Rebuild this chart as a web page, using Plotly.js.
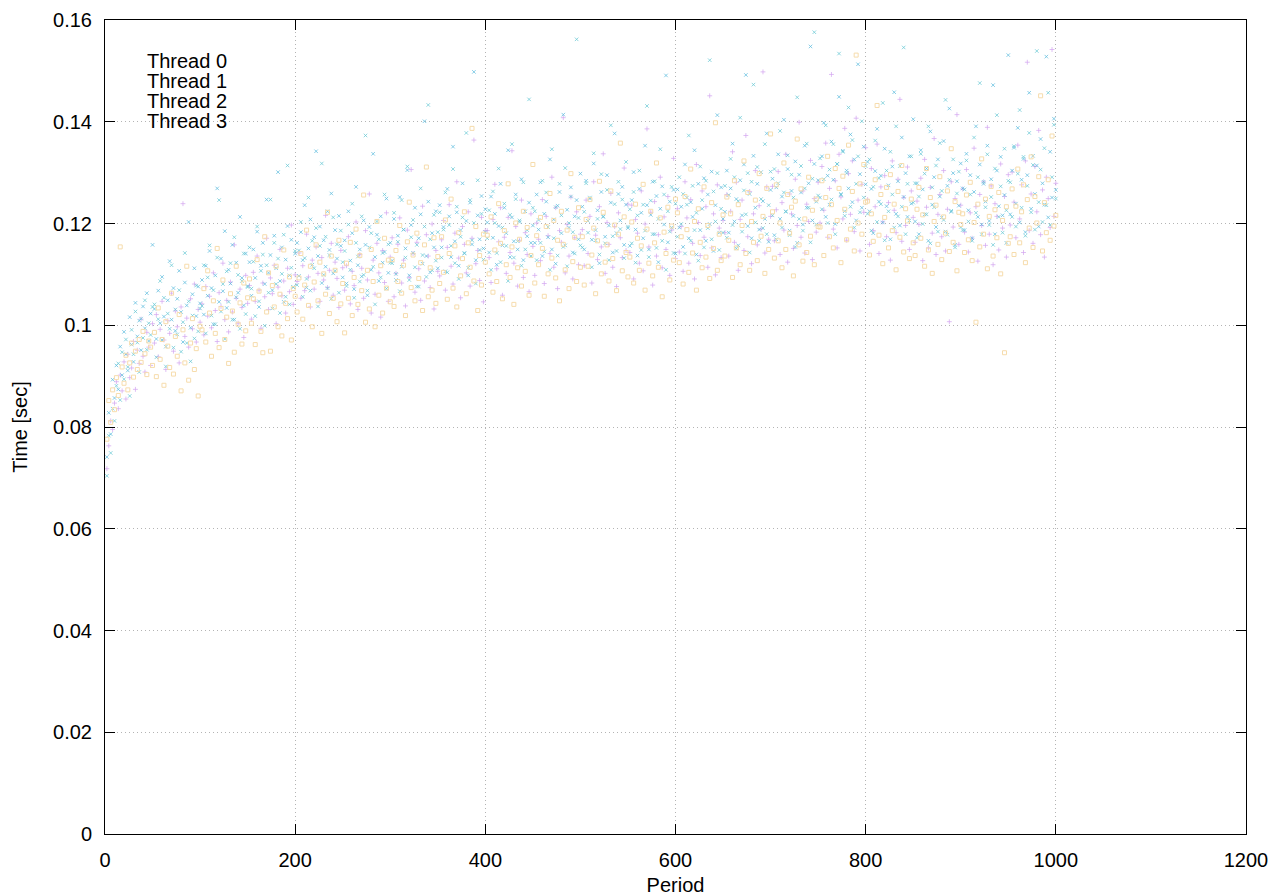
<!DOCTYPE html>
<html>
<head>
<meta charset="utf-8">
<script src="https://cdn.plot.ly/plotly-3.0.1.min.js"></script>
<style>html,body{margin:0;padding:0;background:#fff;}#chart{width:1280px;height:896px;}</style>
</head>
<body>
<div id="chart"></div>
<script>
// Series names
const threadNames = ["Thread 0", "Thread 1", "Thread 2", "Thread 3"];
// Values are read every second period (2, 4, ..., 1000)
const periodStep = 2;

const thread0 = [
.0718,.0763,.0812,.0795,.0847,.0889,.0836,.0902,.0871,.0928,.0855,.0943,.0897,.0916,.0968,.0874,.0951,.0925,.1012,.0939,.0908,.0986,.0957,.0921,.1003,
.0965,.1021,.0938,.0992,.1047,.0971,.0913,.1009,.0984,.1063,.0949,.1028,.0997,.0926,.1036,.1239,.0978,.1014,.0957,.1052,.0993,.1081,.0967,.1031,.1006,
.1042,.0981,.1076,.1018,.1057,.0995,.1103,.1029,.0968,.1064,.1037,.1122,.1011,.1049,.0987,.1085,.1026,.1158,.1053,.1004,.1071,.1035,.0976,.1098,.1043,
.1078,.1012,.1104,.1047,.1136,.1069,.0994,.1083,.1056,.1171,.1031,.1093,.1062,.1118,.1003,.1075,.1149,.1058,.1087,.1024,.1112,.1066,.1197,.1041,.1099,
.1086,.1142,.1053,.1117,.1068,.1179,.1095,.1036,.1128,.1071,.1154,.1102,.1047,.1133,.1089,.1216,.1074,.1108,.1161,.1059,.1124,.1092,.1035,.1147,.1113,
.1069,.1117,.1174,.1042,.1106,.1078,.1203,.1031,.1139,.1112,.1053,.1186,.1089,.1258,.1024,.1128,.1061,.1161,.1103,.1016,.1147,.1084,.1221,.1047,.1134,
.1172,.1056,.1102,.1159,.1211,.1083,.1128,.1038,.1187,.1094,.1306,.1141,.1065,.1163,.1111,.1049,.1234,.1087,.1178,.1136,.1074,.1199,.1032,.1147,.1106,
.1097,.1168,.1206,.1069,.1153,.1237,.1116,.1081,.1181,.1282,.1132,.1054,.1194,.1159,.1103,.1223,.1077,.1171,.1364,.1121,.1147,.1088,.1212,.1046,.1186,
.1186,.1133,.1084,.1208,.1277,.1111,.1164,.1231,.1059,.1173,.1102,.1212,.1143,.1343,.1122,.1194,.1077,.1167,.1246,.1094,.1182,.1139,.1066,.1219,.1155,
.1098,.1201,.1169,.1127,.1247,.1082,.1214,.1176,.1141,.1291,.1114,.1231,.1072,.1186,.1163,.1408,.1103,.1198,.1136,.1252,.1091,.1172,.1223,.1119,.1179,
.1188,.1117,.1246,.1141,.1214,.1083,.1282,.1177,.1129,.1233,.1154,.1337,.1102,.1202,.1159,.1259,.1114,.1194,.1076,.1221,.1172,.1133,.1309,.1147,.1238,
.1143,.1236,.1091,.1208,.1181,.1122,.1264,.1107,.1199,.1386,.1154,.1222,.1079,.1243,.1136,.1178,.1291,.1113,.1213,.1149,.1253,.1098,.1187,.1328,.1131,
.1229,.1144,.1194,.1106,.1282,.1211,.1122,.1247,.1161,.1091,.1316,.1202,.1137,.1264,.1173,.1233,.1114,.1451,.1152,.1219,.1099,.1276,.1191,.1133,.1206,
.1182,.1257,.1136,.1224,.1341,.1163,.1281,.1108,.1208,.1246,.1147,.1373,.1174,.1263,.1121,.1219,.1304,.1158,.1235,.1189,.1498,.1142,.1272,.1169,.1214,
.1273,.1166,.1227,.1302,.1139,.1241,.1187,.1336,.1124,.1258,.1219,.1151,.1287,.1196,.1399,.1173,.1264,.1142,.1238,.1204,.1324,.1129,.1249,.1183,.1281,
.1201,.1312,.1226,.1358,.1173,.1269,.1493,.1189,.1284,.1152,.1336,.1252,.1209,.1387,.1167,.1298,.1218,.1323,.1184,.1407,.1246,.1146,.1277,.1222,.1349,
.1247,.1159,.1308,.1186,.1233,.1356,.1141,.1272,.1203,.1294,.1174,.1241,.1128,.1323,.1226,.1182,.1287,.1444,.1165,.1251,.1196,.1311,.1149,.1264,.1212,
.1163,.1244,.1198,.1289,.1127,.1326,.1232,.1152,.1271,.1181,.1367,.1139,.1218,.1257,.1174,.1304,.1146,.1228,.1007,.1282,.1193,.1249,.1414,.1159,.1236,
.1268,.1183,.1306,.1144,.1221,.1171,.1348,.1233,.1126,.1257,.1196,.1282,.1157,.1389,.1179,.1274,.1119,.1239,.1214,.1148,.1317,.1191,.1253,.1134,.1296,
.1197,.1301,.1242,.1172,.1354,.1209,.1276,.1143,.1323,.1517,.1186,.1258,.1161,.1312,.1223,.1383,.1178,.1266,.1134,.1291,.1249,.1192,.1542,.1214,.1279
];

const thread1 = [
.0741,.0828,.0786,.0893,.0857,.0921,.0874,.0958,.0902,.0987,.0943,.0911,.1016,.0962,.0928,.1044,.0978,.1009,.0951,.1037,.0994,.1063,.0969,.1023,.1158,
.1032,.0973,.1068,.1004,.1095,.1017,.0958,.1049,.1126,.1011,.1073,.0989,.1052,.1107,.1026,.0967,.1084,.1039,.1203,.0995,.1061,.1112,.1018,.1076,.1043,
.1089,.1021,.1117,.1058,.1146,.1073,.1002,.1098,.1269,.1046,.1131,.1067,.1185,.1034,.1109,.1082,.1158,.1011,.1123,.1064,.1213,.1093,.1039,.1141,.1077,
.1124,.1058,.1149,.1093,.1184,.1036,.1117,.1162,.1081,.1247,.1103,.1138,.1069,.1176,.1112,.1301,.1087,.1153,.1046,.1129,.1195,.1098,.1168,.1075,.1141,
.1162,.1097,.1183,.1128,.1236,.1074,.1151,.1208,.1119,.1173,.1342,.1136,.1194,.1083,.1167,.1115,.1224,.1148,.1259,.1102,.1187,.1131,.1215,.1156,.1094,
.1167,.1082,.1224,.1127,.1181,.1071,.1272,.1118,.1149,.1096,.1206,.1158,.1059,.1193,.1109,.1337,.1134,.1178,.1087,.1214,.1123,.1144,.1249,.1103,.1162,
.1127,.1209,.1089,.1176,.1252,.1115,.1188,.1151,.1305,.1098,.1197,.1142,.1231,.1076,.1171,.1218,.1121,.1401,.1136,.1243,.1104,.1181,.1153,.1224,.1112,
.1236,.1153,.1193,.1106,.1268,.1214,.1134,.1351,.1165,.1222,.1117,.1187,.1279,.1142,.1205,.1098,.1241,.1159,.1498,.1128,.1216,.1169,.1254,.1151,.1228,
.1202,.1143,.1253,.1172,.1219,.1119,.1195,.1278,.1157,.1231,.1181,.1344,.1134,.1212,.1165,.1257,.1149,.1203,.1287,.1128,.1224,.1175,.1241,.1162,.1196,
.1162,.1257,.1188,.1281,.1136,.1219,.1243,.1173,.1326,.1149,.1208,.1121,.1235,.1262,.1181,.1414,.1157,.1227,.1192,.1271,.1143,.1214,.1246,.1169,.1298,
.1233,.1149,.1284,.1205,.1249,.1168,.1318,.1187,.1226,.1122,.1262,.1213,.1174,.1295,.1196,.1241,.1143,.1377,.1181,.1258,.1206,.1272,.1158,.1237,.1191,
.1156,.1246,.1301,.1188,.1137,.1268,.1221,.1171,.1353,.1236,.1149,.1217,.1282,.1179,.1254,.1124,.1229,.1273,.1198,.1491,.1163,.1243,.1192,.1266,.1141,
.1267,.1192,.1233,.1154,.1316,.1251,.1171,.1242,.1213,.1344,.1139,.1278,.1187,.1229,.1289,.1166,.1257,.1199,.1302,.1146,.1236,.1413,.1182,.1271,.1209,
.1223,.1304,.1182,.1269,.1357,.1204,.1248,.1157,.1285,.1216,.1316,.1492,.1195,.1258,.1171,.1333,.1231,.1278,.1188,.1301,.1244,.1209,.1377,.1164,.1266,
.1288,.1177,.1271,.1336,.1209,.1253,.1404,.1224,.1307,.1186,.1264,.1215,.1322,.1162,.1296,.1261,.1198,.1353,.1231,.1279,.1548,.1206,.1317,.1243,.1285,
.1251,.1332,.1398,.1213,.1294,.1237,.1361,.1286,.1199,.1317,.1449,.1258,.1343,.1224,.1304,.1269,.1375,.1242,.1326,.1206,.1513,.1297,.1231,.1351,.1277,
.1321,.1224,.1268,.1181,.1303,.1386,.1243,.1294,.1202,.1347,.1234,.1275,.1169,.1312,.1458,.1219,.1283,.1196,.1369,.1252,.1299,.1213,.1332,.1239,.1405,
.1204,.1279,.1179,.1344,.1267,.1218,.1308,.1166,.1381,.1237,.1291,.1193,.1326,.1253,.1212,.1362,.1184,.1274,.1426,.1223,.1299,.1158,.1283,.1235,.1318,
.1269,.1187,.1337,.1226,.1295,.1171,.1262,.1391,.1213,.1316,.1198,.1278,.1243,.1353,.1205,.1287,.1472,.1179,.1304,.1234,.1331,.1216,.1256,.1162,.1531,
.1218,.1304,.1349,.1239,.1388,.1202,.1286,.1327,.1183,.1295,.1457,.1229,.1333,.1258,.1314,.1194,.1366,.1279,.1237,.1528,.1212,.1341,.1251,.1406,.1266
];

const thread2 = [
.0704,.0783,.0749,.0836,.0812,.0881,.0925,.0853,.0947,.0894,.0972,.0918,.0861,.0991,.0943,.1027,.0966,.0908,.1013,.0975,.1049,.0952,.1004,.0981,.1036,
.1041,.0937,.1012,.1087,.0971,.1054,.0919,.1023,.0993,.1118,.0956,.1031,.0982,.1069,.0948,.1006,.1142,.0965,.1047,.0929,.1019,.0974,.1078,.0988,.1033,
.1038,.1118,.0984,.1094,.1157,.1019,.1069,.1002,.1133,.1246,.1027,.1081,.0973,.1106,.1046,.1122,.1011,.1173,.1055,.1099,.0993,.1087,.1141,.1022,.1075,
.1153,.1072,.1125,.1018,.1194,.1047,.1107,.1139,.0999,.1118,.1064,.1247,.1033,.1162,.1081,.1131,.1024,.1101,.1178,.1056,.1314,.1041,.1113,.1075,.1146,
.1079,.1147,.1203,.1056,.1132,.1091,.1251,.1068,.1166,.1112,.1191,.1037,.1156,.1318,.1099,.1174,.1073,.1138,.1052,.1212,.1107,.1159,.1064,.1186,.1124,
.1146,.1077,.1198,.1109,.1239,.1054,.1162,.1135,.1086,.1214,.1099,.1373,.1068,.1153,.1181,.1115,.1041,.1204,.1169,.1094,.1142,.1257,.1072,.1159,.1123,
.1122,.1221,.1101,.1164,.1067,.1246,.1188,.1133,.1312,.1089,.1173,.1207,.1114,.1158,.1076,.1269,.1138,.1194,.1095,.1433,.1169,.1108,.1217,.1127,.1183,
.1222,.1133,.1188,.1261,.1104,.1197,.1156,.1307,.1122,.1233,.1091,.1174,.1212,.1141,.1378,.1113,.1246,.1167,.1201,.1082,.1285,.1148,.1219,.1129,.1183,
.1171,.1226,.1109,.1263,.1201,.1142,.1308,.1124,.1192,.1239,.1156,.1087,.1217,.1356,.1133,.1248,.1165,.1206,.1117,.1281,.1149,.1187,.1444,.1136,.1231,
.1224,.1128,.1207,.1162,.1284,.1145,.1261,.1193,.1109,.1346,.1171,.1232,.1137,.1278,.1216,.1154,.1309,.1116,.1201,.1253,.1183,.1141,.1562,.1211,.1157,
.1153,.1223,.1279,.1182,.1251,.1114,.1338,.1167,.1209,.1139,.1297,.1214,.1161,.1266,.1128,.1393,.1175,.1238,.1146,.1282,.1189,.1247,.1132,.1321,.1194,
.1228,.1161,.1262,.1123,.1216,.1304,.1148,.1237,.1186,.1431,.1134,.1245,.1179,.1283,.1152,.1209,.1346,.1166,.1257,.1109,.1224,.1184,.1272,.1142,.1239,
.1174,.1291,.1199,.1258,.1141,.1237,.1373,.1166,.1274,.1187,.1221,.1127,.1312,.1246,.1153,.1284,.1191,.1521,.1169,.1263,.1204,.1299,.1148,.1229,.1182,
.1274,.1172,.1256,.1327,.1197,.1291,.1151,.1244,.1408,.1184,.1265,.1218,.1299,.1143,.1282,.1473,.1202,.1311,.1166,.1248,.1191,.1356,.1179,.1236,.1302,
.1216,.1307,.1169,.1279,.1382,.1192,.1261,.1223,.1334,.1177,.1296,.1251,.1154,.1448,.1209,.1313,.1186,.1269,.1357,.1231,.1163,.1288,.1576,.1198,.1255,
.1328,.1228,.1287,.1393,.1201,.1306,.1247,.1356,.1179,.1317,.1534,.1256,.1341,.1215,.1299,.1428,.1233,.1364,.1192,.1278,.1332,.1222,.1401,.1251,.1313,
.1219,.1326,.1186,.1272,.1363,.1203,.1289,.1238,.1437,.1167,.1304,.1224,.1341,.1257,.1192,.1391,.1214,.1313,.1233,.1546,.1179,.1278,.1206,.1332,.1241,
.1279,.1172,.1253,.1337,.1199,.1298,.1218,.1391,.1161,.1271,.1232,.1314,.1184,.1358,.1264,.1207,.1443,.1178,.1286,.1225,.1326,.1153,.1259,.1302,.1193,
.1187,.1267,.1324,.1204,.1257,.1166,.1369,.1221,.1291,.1476,.1179,.1282,.1232,.1336,.1197,.1252,.1158,.1308,.1413,.1213,.1273,.1182,.1347,.1226,.1284,
.1281,.1213,.1352,.1194,.1298,.1423,.1231,.1331,.1176,.1274,.1378,.1222,.1315,.1188,.1539,.1242,.1306,.1203,.1348,.1236,.1457,.1197,.1291,.1394,.1249
];

const thread3 = [
.0776,.0852,.0809,.0873,.0834,.0897,.0862,.1154,.0918,.0886,.0941,.0873,.0926,.0965,.0898,.0949,.0913,.0972,.0927,.0988,.0944,.0903,.0969,.0957,.0921,
.0986,.0899,.1034,.0933,.0972,.0882,.1007,.0959,.0917,.1063,.0904,.0978,.0939,.1021,.0871,.0991,.0926,.1116,.0892,.0965,.1013,.0913,.0954,.0861,.0998,
.0991,.1072,.0967,.1107,.1024,.0939,.1048,.0984,.1151,.0956,.1033,.1089,.0972,.1016,.0925,.1062,.1028,.0947,.1116,.1002,.1044,.0963,.1083,.0989,.1054,
.1091,.1004,.1052,.0962,.1129,.1067,.0988,.0946,.1174,.1026,.1103,.0949,.1078,.1036,.1116,.0997,.1061,.0979,.1148,.1043,.1013,.1095,.0971,.1072,.1057,
.1026,.1093,.1141,.1012,.1079,.1187,.1039,.1116,.0997,.1085,.1158,.1048,.1124,.0984,.1101,.1061,.1222,.1023,.1136,.1053,.1108,.1007,.1167,.1042,.1082,
.0985,.1122,.1053,.1163,.1019,.1094,.1189,.1041,.1137,.1068,.1256,.1006,.1108,.1032,.1149,.1086,.0997,.1204,.1059,.1117,.1024,.1171,.1073,.1128,.1046,
.1129,.1037,.1147,.1086,.1196,.1063,.1118,.1019,.1164,.1242,.1074,.1138,.1048,.1181,.1092,.1123,.1029,.1158,.1311,.1056,.1113,.1069,.1172,.1043,.1135,
.1082,.1174,.1104,.1207,.1051,.1141,.1248,.1073,.1156,.1036,.1182,.1097,.1131,.1223,.1062,.1162,.1114,.1387,.1087,.1194,.1029,.1137,.1079,.1179,.1124,
.1177,.1101,.1213,.1065,.1148,.1086,.1239,.1161,.1052,.1186,.1119,.1278,.1094,.1154,.1041,.1201,.1113,.1169,.1077,.1224,.1106,.1192,.1059,.1137,.1316,
.1083,.1176,.1119,.1212,.1151,.1057,.1194,.1101,.1259,.1132,.1206,.1093,.1167,.1048,.1224,.1159,.1109,.1187,.1072,.1298,.1125,.1173,.1086,.1231,.1114,
.1174,.1079,.1208,.1116,.1247,.1138,.1191,.1062,.1166,.1283,.1101,.1222,.1124,.1158,.1087,.1264,.1131,.1197,.1068,.1179,.1358,.1107,.1213,.1143,.1095,
.1134,.1203,.1083,.1238,.1171,.1108,.1156,.1277,.1069,.1189,.1122,.1224,.1097,.1162,.1319,.1114,.1211,.1056,.1183,.1141,.1232,.1089,.1195,.1128,.1248,
.1221,.1123,.1174,.1081,.1253,.1188,.1104,.1307,.1142,.1204,.1069,.1229,.1163,.1113,.1272,.1134,.1196,.1092,.1241,.1151,.1398,.1108,.1179,.1127,.1217,
.1136,.1252,.1167,.1219,.1094,.1284,.1152,.1237,.1119,.1196,.1323,.1141,.1261,.1108,.1204,.1163,.1246,.1127,.1298,.1175,.1214,.1102,.1269,.1149,.1376,
.1223,.1132,.1276,.1166,.1201,.1113,.1319,.1149,.1257,.1181,.1232,.1097,.1244,.1366,.1158,.1268,.1126,.1209,.1143,.1291,.1175,.1226,.1119,.1248,.1194,
.1193,.1284,.1137,.1251,.1332,.1174,.1237,.1152,.1308,.1206,.1269,.1123,.1293,.1228,.1168,.1354,.1189,.1263,.1146,.1531,.1201,.1278,.1179,.1316,.1242,
.1244,.1138,.1219,.1165,.1286,.1432,.1177,.1257,.1121,.1212,.1271,.1152,.1296,.1186,.1238,.1109,.1263,.1173,.1314,.1144,.1229,.1205,.1131,.1248,.1162,
.1137,.1228,.1271,.1171,.1217,.1116,.1308,.1148,.1251,.1102,.1204,.1236,.1159,.1292,.1129,.1213,.1181,.1264,.1145,.1347,.1163,.1243,.1107,.1222,.1198,
.1219,.1143,.1256,.1168,.1281,.1127,.1202,.1006,.1238,.1154,.1327,.1179,.1248,.1111,.1214,.1273,.1136,.1227,.1172,.1261,.1101,.1206,.0946,.1233,.1161,
.1174,.1268,.1139,.1234,.1307,.1162,.1223,.1276,.1123,.1247,.1191,.1331,.1153,.1253,.1201,.1292,.1451,.1146,.1241,.1182,.1286,.1167,.1372,.1195,.1216
];

const xTicks = [0, 200, 400, 600, 800, 1000, 1200];
const yTicks = [0, 0.02, 0.04, 0.06, 0.08, 0.1, 0.12, 0.14, 0.16];

function periodsFor(arr) {
  const p = [];
  for (let i = 0; i < arr.length; i++) p.push((i + 1) * periodStep);
  return p;
}

const seriesData = [thread0, thread1, thread2, thread3];
const styles = [
  {symbol: "cross-thin", size: 3.5, color: "rgb(212,168,240)", line: {width: 1, color: "rgba(212,168,240,0.75)"}},
  {symbol: "x-thin", size: 3.5, color: "rgb(95,188,222)", line: {width: 1, color: "rgba(95,188,222,0.75)"}},
  {symbol: "x-thin", size: 3.5, color: "rgb(105,200,212)", line: {width: 1, color: "rgba(105,200,212,0.75)"}},
  {symbol: "square-open", size: 4, color: "rgb(246,220,172)", line: {width: 1, color: "rgba(245,215,160,0.85)"}}
];

const traces = seriesData.map((arr, k) => ({
  type: "scatter",
  mode: "markers",
  name: threadNames[k],
  x: periodsFor(arr),
  y: arr,
  marker: styles[k],
  showlegend: false,
  hoverinfo: "x+y+name"
}));

const fontFam = "Liberation Sans, Arial, sans-serif";

// Legend labels (gnuplot style: text in the top-left corner)
const legendY = [0.9496, 0.9251, 0.9005, 0.8759];
const annotations = threadNames.map((t, k) => ({
  text: t,
  xref: "paper", yref: "paper",
  x: 0.0352, y: legendY[k],
  xanchor: "left", yanchor: "middle",
  showarrow: false,
  font: {family: fontFam, size: 20, color: "#000"}
}));

const axisCommon = {
  ticks: "inside",
  ticklen: 10,
  tickwidth: 1,
  tickcolor: "#000",
  showline: true,
  linecolor: "#000",
  linewidth: 1,
  mirror: "ticks",
  showgrid: true,
  gridcolor: "#b4b4b4",
  griddash: "1px,3px",
  gridwidth: 1,
  zeroline: false,
  automargin: false,
  ticklabelstandoff: 8,
  tickfont: {family: fontFam, size: 20, color: "#000"}
};

const layout = {
  width: 1280,
  height: 896,
  margin: {l: 105, r: 34, t: 20, b: 62},
  paper_bgcolor: "#ffffff",
  plot_bgcolor: "#ffffff",
  font: {family: fontFam, size: 20, color: "#000"},
  showlegend: false,
  annotations: annotations,
  xaxis: Object.assign({}, axisCommon, {
    range: [0, 1200],
    tickvals: xTicks,
    title: {text: "Period", font: {family: fontFam, size: 20, color: "#000"}, standoff: 9}
  }),
  yaxis: Object.assign({}, axisCommon, {
    range: [0, 0.16],
    tickvals: yTicks,
    title: {text: "Time [sec]", font: {family: fontFam, size: 20, color: "#000"}, standoff: 20}
  })
};

Plotly.newPlot("chart", traces, layout, {displayModeBar: false, staticPlot: true});
</script>
</body>
</html>
